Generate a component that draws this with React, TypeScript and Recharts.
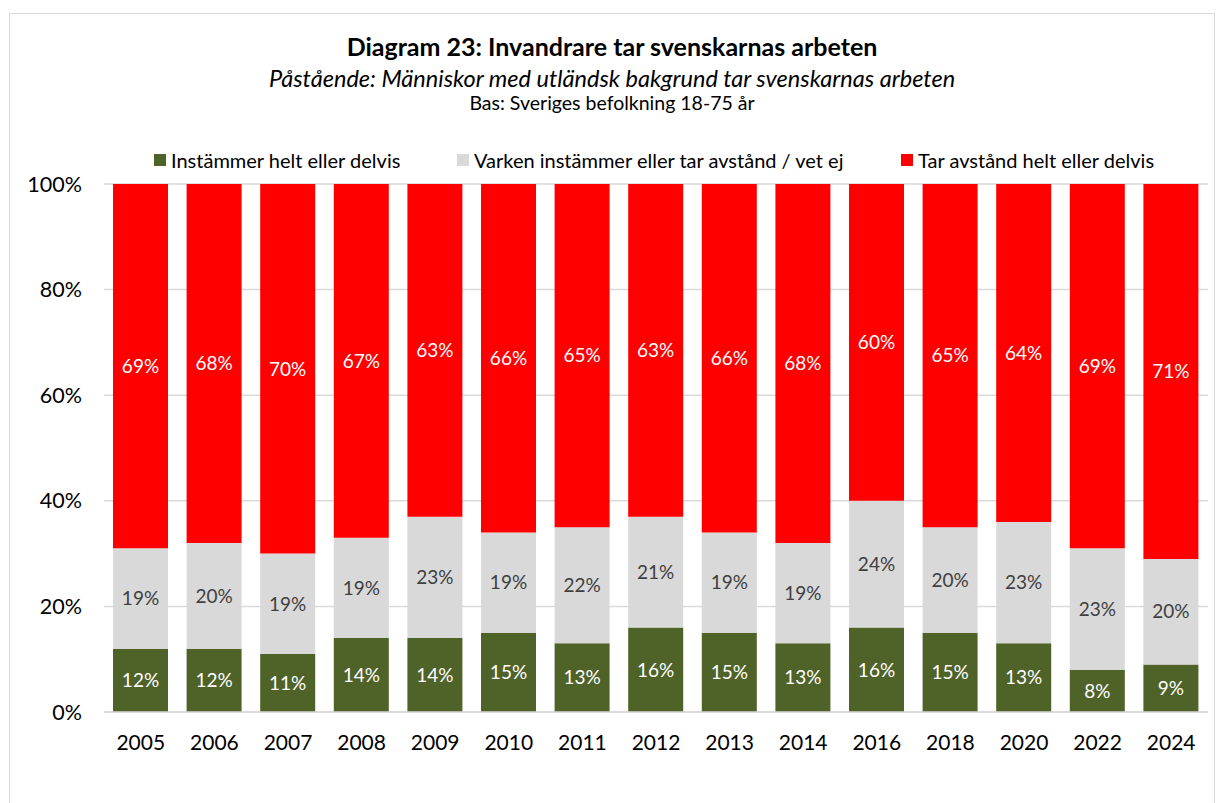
import { BarChart, Bar, XAxis, YAxis, CartesianGrid, LabelList } from 'recharts';

const years = ['2005', '2006', '2007', '2008', '2009', '2010', '2011', '2012', '2013', '2014', '2016', '2018', '2020', '2022', '2024'];
const agree = [12, 12, 11, 14, 14, 15, 13, 16, 15, 13, 16, 15, 13, 8, 9];
const neutral = [19, 20, 19, 19, 23, 19, 22, 21, 19, 19, 24, 20, 23, 23, 20];
const disagree = [69, 68, 70, 67, 63, 66, 65, 63, 66, 68, 60, 65, 64, 69, 71];
const yTicks = [0, 20, 40, 60, 80, 100];

const seriesNames = ['Instämmer helt eller delvis', 'Varken instämmer eller tar avstånd / vet ej', 'Tar avstånd helt eller delvis'];
const colors = ['#4f6228', '#d9d9d9', '#ff0000'];

const FONT = 'Lato, "Liberation Sans", sans-serif';

const data = years.map((y, i) => ({
  year: y,
  agree: agree[i],
  neutral: neutral[i],
  disagree: disagree[i],
}));

const legendLeft = [144, 447, 891];

function ChartLegend() {
  return (
    <div style={{ position: 'absolute', top: 134, left: 0, height: 24, width: 1204 }}>
      {seriesNames.map((name, i) => (
        <div key={name} style={{ position: 'absolute', left: legendLeft[i], top: 0, display: 'flex', alignItems: 'center', gap: 5, fontSize: 20, lineHeight: '24px', color: '#000', whiteSpace: 'nowrap' }}>
          <span style={{ width: 12, height: 12, background: colors[i], display: 'inline-block' }} />
          {name}
        </div>
      ))}
    </div>
  );
}

export default function App() {
  const pct = (v: any) => `${v}%`;
  return (
    <div style={{ position: 'absolute', left: 9, top: 13, width: 1204, height: 800, border: '1px solid #d9d9d9', background: '#fff', fontFamily: FONT }}>
      <div style={{ position: 'absolute', top: 17, width: '100%', textAlign: 'center', fontSize: 25, lineHeight: '30px', fontWeight: 700, color: '#000' }}>
        Diagram 23: Invandrare tar svenskarnas arbeten
      </div>
      <div style={{ position: 'absolute', top: 50, width: '100%', textAlign: 'center', fontSize: 23.5, lineHeight: '28px', fontStyle: 'italic', color: '#000' }}>
        Påstående: Människor med utländsk bakgrund tar svenskarnas arbeten
      </div>
      <div style={{ position: 'absolute', top: 77, width: '100%', textAlign: 'center', fontSize: 19.5, lineHeight: '23px', color: '#000' }}>
        Bas: Sveriges befolkning 18-75 år
      </div>
      <ChartLegend />
      <BarChart width={1204} height={790} data={data} margin={{ top: 170, right: 6, left: 0, bottom: 40 }} barSize={55}>
        <CartesianGrid vertical={false} stroke="#d9d9d9" strokeWidth={1.5} />
        <XAxis dataKey="year" axisLine={{ stroke: '#d9d9d9', strokeWidth: 1.5 }} tickLine={false} tickSize={0} tickMargin={23} height={52}
          tick={{ fontSize: 21, fill: '#000', fontFamily: FONT }} />
        <YAxis domain={[0, 100]} ticks={yTicks} tickFormatter={pct} axisLine={false} tickLine={false} tickSize={0} tickMargin={22} width={94}
          tick={{ fontSize: 21.5, fill: '#000', fontFamily: FONT }} />
        <Bar dataKey="agree" stackId="a" fill={colors[0]} isAnimationActive={false}>
          <LabelList dataKey="agree" position="center" formatter={pct} fill="#fff" fontSize={19} fontFamily={FONT} />
        </Bar>
        <Bar dataKey="neutral" stackId="a" fill={colors[1]} isAnimationActive={false}>
          <LabelList dataKey="neutral" position="center" formatter={pct} fill="#404040" fontSize={19} fontFamily={FONT} />
        </Bar>
        <Bar dataKey="disagree" stackId="a" fill={colors[2]} isAnimationActive={false}>
          <LabelList dataKey="disagree" position="center" formatter={pct} fill="#fff" fontSize={19} fontFamily={FONT} />
        </Bar>
      </BarChart>
    </div>
  );
}
